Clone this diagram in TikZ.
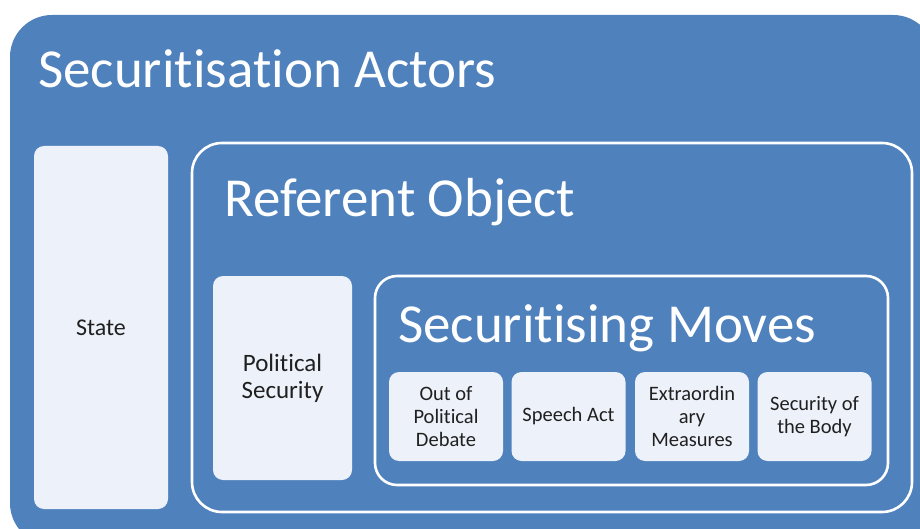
\documentclass[tikz,border=0pt]{standalone}
\usepackage{fontspec}
\setmainfont[Ligatures=NoCommon]{Carlito}
\definecolor{ablue}{HTML}{4F81BD}
\definecolor{alight}{HTML}{EDF1F9}
\definecolor{atext}{HTML}{202020}
\begin{document}
\begin{tikzpicture}[x=1pt,y=-1pt,
  inner/.style={draw=none,fill=alight,rounded corners=10pt,text=atext,align=center,inner sep=2pt},
  frame/.style={draw=white,line width=2.6pt,fill=ablue,rounded corners=#1},
  title/.style={text=white,anchor=base west,inner sep=0pt}]
\useasboundingbox (0,0) rectangle (920,529);
\fill[white] (0,0) rectangle (920,529);
\begin{scope}
\clip (0,0) rectangle (920,529);
\fill[ablue,rounded corners=42pt] (10,15) rectangle (935,545);
\end{scope}
\node[title,font=\fontsize{55}{66}\selectfont] (t1) at (38,88) {Securitisation Actors};
\node[inner,minimum width=134pt,minimum height=363pt,font=\fontsize{24}{28}\selectfont] (state) at (101,327.5) {State};
\draw[frame=30pt] (192,143) rectangle (912,512);
\node[title,font=\fontsize{55}{66}\selectfont] (t2) at (224,217) {Referent Object};
\node[inner,minimum width=139pt,minimum height=204pt,font=\fontsize{25}{27}\selectfont] (pol) at (282.5,378) {Political\\Security};
\draw[frame=22pt] (375,276) rectangle (888,485);
\node[title,font=\fontsize{55}{66}\selectfont] (t3) at (398,342) {Securitising Moves};
\begin{scope}[every node/.style={inner,minimum width=114pt,minimum height=89pt,font=\fontsize{20.5}{23}\selectfont}]
\node (m1) at (446,416.5) {Out of\\Political\\Debate};
\node (m2) at (568.5,416.5) {Speech Act};
\node (m3) at (692,416.5) {Extraordin\\ary\\Measures};
\node (m4) at (814.5,416.5) {Security of\\the Body};
\end{scope}
\end{tikzpicture}
\end{document}
